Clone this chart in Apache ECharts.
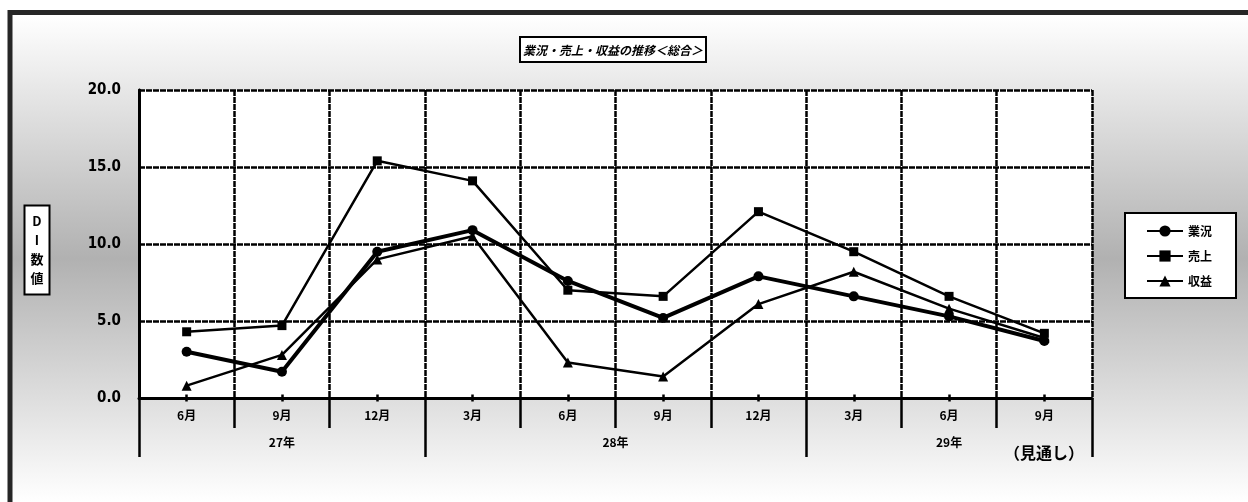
<!DOCTYPE html>
<html>
<head>
<meta charset="utf-8">
<script src="https://cdn.jsdelivr.net/npm/echarts@6/dist/echarts.min.js"></script>
<style>
  html, body { margin: 0; padding: 0; background: #fff; }
  #chart { width: 1248px; height: 502px; }
</style>
</head>
<body>
<div id="chart"></div>
<script>
// Survey periods (quarter months) and their fiscal-year groups
const months = ['6月', '9月', '12月', '3月', '6月', '9月', '12月', '3月', '6月', '9月'];
const yearLabels = ['27年', '28年', '29年'];
const yearLabelPos = [1.5, 5, 8.5];      // centre of each year's span, in category units
const yearBounds = [0, 3, 7, 10];        // boundaries between the year groups

// DI values
const gyokyo = [3.0, 1.7, 9.5, 10.9, 7.6, 5.2, 7.9, 6.6, 5.3, 3.7];   // 業況
const uriage = [4.3, 4.7, 15.4, 14.1, 7.0, 6.6, 12.1, 9.5, 6.6, 4.2]; // 売上
const shueki = [0.8, 2.8, 9.0, 10.5, 2.3, 1.4, 6.1, 8.2, 5.8, 3.9];   // 収益

const JP = "'Noto Sans CJK JP', sans-serif";
const NUM = "'Liberation Sans Narrow', 'DejaVu Sans Condensed', 'Liberation Sans', sans-serif";

const chart = echarts.init(document.getElementById('chart'), null, { renderer: 'canvas' });

const centreTicks = months.map((_, i) => i + 0.5);
const gridDash = { color: '#000', width: 2.5, type: [6, 1] };

chart.setOption({
  backgroundColor: '#ffffff',
  animation: false,
  title: {
    text: '業況・売上・収益の推移＜総合＞',
    left: 520,
    top: 37,
    padding: [7, 3, 6, 3],
    borderColor: '#000',
    borderWidth: 2,
    backgroundColor: '#fff',
    textStyle: { fontFamily: JP, fontSize: 12, fontWeight: 'bold', fontStyle: 'italic', color: '#000' }
  },
  legend: {
    orient: 'vertical',
    left: 1125,
    top: 213,
    padding: [12, 24, 11, 21],
    itemWidth: 36,
    itemHeight: 14,
    itemGap: 13,
    borderColor: '#000',
    borderWidth: 2,
    backgroundColor: '#fff',
    textStyle: { fontFamily: JP, fontSize: 12, fontWeight: 'bold', color: '#000' },
    data: ['業況', '売上', '収益']
  },
  graphic: [
    {
      type: 'rect',
      z: -100,
      silent: true,
      shape: { x: 10, y: 12.5, width: 1400, height: 700 },
      style: {
        stroke: '#262626',
        lineWidth: 5,
        fill: {
          type: 'linear', x: 0, y: 15, x2: 0, y2: 502, global: true,
          colorStops: [
            { offset: 0, color: '#ffffff' },
            { offset: 0.5, color: '#b1b1b1' },
            { offset: 1, color: '#ffffff' }
          ]
        }
      }
    },
    {
      // value-axis title, boxed and written vertically
      type: 'text',
      x: 37,
      y: 250,
      z: 10,
      style: {
        text: 'D\nI\n数\n値',
        font: "bold 13px 'Noto Sans CJK JP', sans-serif",
        lineHeight: 19,
        fill: '#000',
        align: 'center',
        verticalAlign: 'middle',
        backgroundColor: '#fff',
        borderColor: '#000',
        borderWidth: 2,
        padding: [6, 5, 5, 5]
      }
    },
    {
      type: 'text',
      left: 1004,
      top: 445,
      style: { text: '（見通し）', font: "bold 16px 'Noto Sans CJK JP', sans-serif", fill: '#000' }
    }
  ],
  grid: {
    left: 139, right: 156, top: 90, bottom: 104,
    show: true, borderWidth: 0, backgroundColor: '#fff'
  },
  xAxis: [
    {
      // month categories with boundary tick lines below the axis
      type: 'category',
      data: months,
      position: 'bottom',
      axisLine: { lineStyle: { color: '#000', width: 3 } },
      axisTick: { show: true, interval: 0, length: 30, lineStyle: { color: '#000', width: 2.5 } },
      axisLabel: { interval: 0, margin: 11, fontFamily: JP, fontSize: 12, fontWeight: 'bold', color: '#000' },
      splitLine: { show: true, interval: 0, lineStyle: gridDash }
    },
    {
      // year grouping row
      type: 'value',
      min: 0, max: 10,
      position: 'bottom',
      axisLine: { show: false },
      axisTick: { show: true, customValues: yearBounds, length: 59, lineStyle: { color: '#000', width: 2.5 } },
      axisLabel: {
        customValues: yearLabelPos,
        formatter: v => yearLabels[yearLabelPos.indexOf(v)] || '',
        margin: 38, fontFamily: JP, fontSize: 12, fontWeight: 'bold', color: '#000'
      },
      splitLine: { show: false }
    },
    {
      // small marks at each category centre, crossing the axis line
      type: 'value',
      min: 0, max: 10,
      position: 'bottom',
      offset: -3.5,
      axisLine: { show: false },
      axisTick: { show: true, customValues: centreTicks, length: 7, lineStyle: { color: '#000', width: 2.5 } },
      axisLabel: { show: false },
      splitLine: { show: false }
    }
  ],
  yAxis: [
    {
      type: 'value',
      min: 0, max: 20, interval: 5,
      axisLine: { show: true, lineStyle: { color: '#000', width: 3 } },
      axisTick: { show: false },
      axisLabel: {
        margin: 18,
        formatter: v => v.toFixed(1),
        fontFamily: NUM, fontSize: 15, fontWeight: 'bold', color: '#000'
      },
      splitLine: { show: true, lineStyle: gridDash }
    },
    {
      // right-hand frame of the plot
      type: 'value',
      min: 0, max: 20, interval: 5,
      position: 'right',
      axisLine: { show: true, lineStyle: { color: '#000', width: 2.5 } },
      axisTick: { show: false },
      axisLabel: { show: false },
      splitLine: { show: false }
    }
  ],
  series: [
    {
      name: '収益', type: 'line', data: shueki,
      symbol: 'triangle', symbolSize: 10,
      lineStyle: { color: '#000', width: 2.5 },
      itemStyle: { color: '#000' }
    },
    {
      name: '売上', type: 'line', data: uriage,
      symbol: 'rect', symbolSize: 9,
      lineStyle: { color: '#000', width: 2.5 },
      itemStyle: { color: '#000' }
    },
    {
      name: '業況', type: 'line', data: gyokyo,
      symbol: 'circle', symbolSize: 10,
      lineStyle: { color: '#000', width: 4 },
      itemStyle: { color: '#000' }
    }
  ]
});
</script>
</body>
</html>
